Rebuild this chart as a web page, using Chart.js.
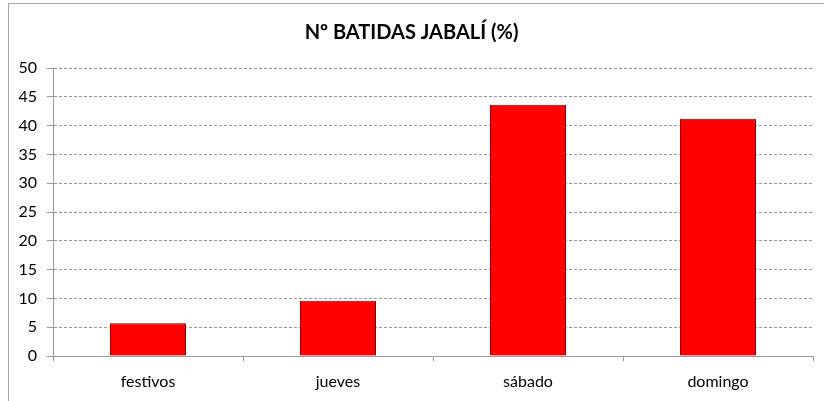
<!DOCTYPE html>
<html>
<head>
<meta charset="utf-8">
<script src="https://cdn.jsdelivr.net/npm/chart.js@4/dist/chart.umd.min.js"></script>
<style>
  html, body { margin: 0; padding: 0; background: #fff; }
  .frame { position: absolute; left: 8px; top: 3px; width: 900px; height: 500px; border: 1px solid #a6a6a6; }
  .wrap { position: absolute; left: 0; top: 0; width: 824px; height: 401px; }
</style>
</head>
<body>
<div class="frame"></div>
<div class="wrap"><canvas id="chart"></canvas></div>
<script>
const categories = ['festivos', 'jueves', 'sábado', 'domingo'];
const batidas = [5.7, 9.6, 43.6, 41.2];
const yTicks = [0, 5, 10, 15, 20, 25, 30, 35, 40, 45, 50];

// soft shadow under the bars, like the spreadsheet original
const barShadow = {
    id: 'barShadow',
    beforeDatasetsDraw(chart) {
        const ctx = chart.ctx;
        ctx.save();
        ctx.shadowColor = 'rgba(0,0,0,0.35)';
        ctx.shadowBlur = 3;
        ctx.shadowOffsetX = 1;
        ctx.shadowOffsetY = 1;
    },
    afterDatasetsDraw(chart) {
        chart.ctx.restore();
    }
};

const ctx = document.getElementById('chart').getContext('2d');
new Chart(ctx, {
    type: 'bar',
    data: {
        labels: categories,
        datasets: [{
            label: 'Nº batidas (%)',
            data: batidas,
            backgroundColor: function (context) {
                const bar = context.element;
                if (!bar || bar.x === undefined) return '#ff0000';
                const g = context.chart.ctx.createLinearGradient(bar.x - bar.width / 2, 0, bar.x + bar.width / 2, 0);
                g.addColorStop(0, '#d80000');
                g.addColorStop(0.07, '#ff0808');
                g.addColorStop(0.93, '#ff0808');
                g.addColorStop(1, '#c80000');
                return g;
            },
            borderColor: '#a00000',
            borderWidth: 1,
            barPercentage: 0.8,
            categoryPercentage: 0.5,
        }],
    },
    options: {
        responsive: true,
        maintainAspectRatio: false,
        animation: false,
        layout: { padding: { left: 10, right: 11, top: 0, bottom: 0 } },
        scales: {
            x: {
                grid: {
                    offset: true,
                    drawOnChartArea: false,
                    tickLength: 5,
                    color: '#999',
                },
                border: { color: '#999' },
                ticks: {
                    color: '#000',
                    padding: 11,
                    font: { family: 'Lato', size: 16 },
                },
                afterFit: function (scale) { scale.height = 45; },
            },
            y: {
                min: 0,
                max: 50,
                afterBuildTicks: function (scale) {
                    scale.ticks = yTicks.map(v => ({ value: v }));
                },
                grid: {
                    color: '#999',
                    tickLength: 6,
                    tickBorderDash: [],
                },
                border: { color: '#999', dash: [3, 2] },
                ticks: {
                    color: '#000',
                    padding: 10,
                    font: { family: 'Lato', size: 16 },
                },
                afterFit: function (scale) { scale.width = 43; },
            },
        },
        plugins: {
            legend: { display: false },
            tooltip: { enabled: false },
            title: {
                display: true,
                text: 'Nº BATIDAS JABALÍ (%)',
                color: '#000',
                font: { family: 'Lato', size: 20, weight: 'bold' },
                padding: { top: 21, bottom: 23 },
            },
        },
    },
    plugins: [barShadow],
});
</script>
</body>
</html>
